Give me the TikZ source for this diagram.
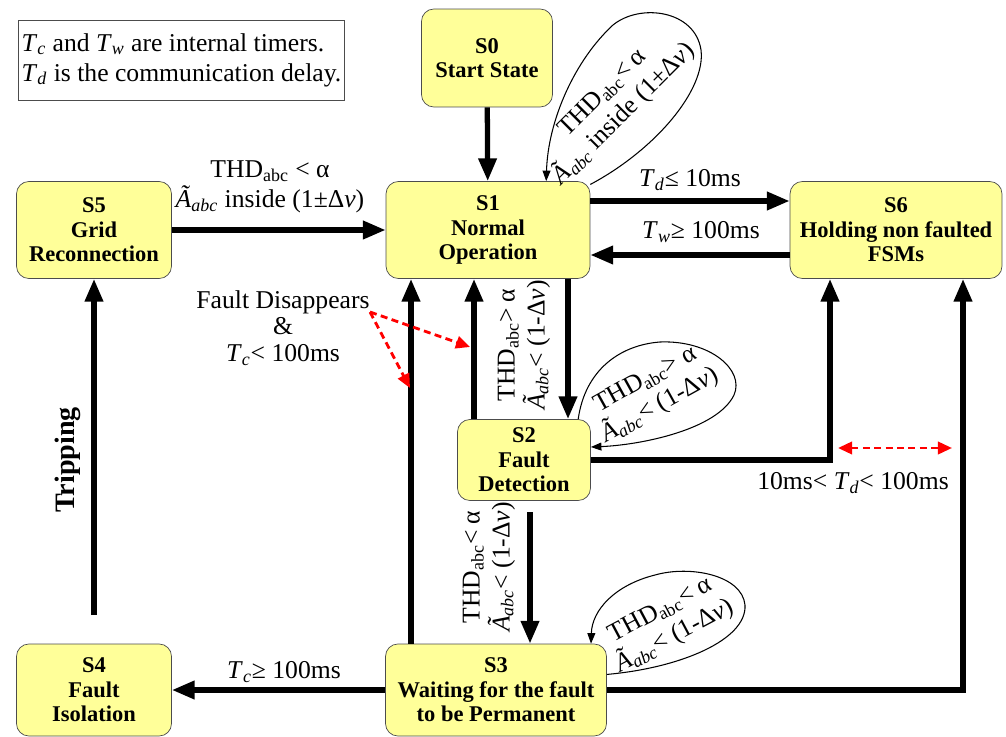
\documentclass[tikz,border=0pt]{standalone}
\usepackage{fontspec}
\setmainfont{Liberation Serif}
\usetikzlibrary{arrows.meta}
\definecolor{stfill}{RGB}{255,255,153}
\newcommand{\thd}{THD\textsubscript{abc}}
\newcommand{\aabc}{\textit{Ã}\textsubscript{\textit{abc}}}
\newcommand{\tm}[1]{\textit{T}\textsubscript{\textit{#1}}}

\begin{document}
\begin{tikzpicture}[x=0.02cm, y=-0.02cm, font=\fontsize{14.6}{17}\selectfont,
  state/.style={draw=black!70, fill=stfill, rounded corners=7pt, align=center,
    inner sep=2pt, font=\fontsize{12.8}{14}\selectfont\bfseries},
  bigarr/.style={line width=3pt, -{Triangle[length=13pt,width=10pt]}},
  looparr/.style={line width=0.6pt, -{Triangle[length=6pt,width=4.5pt]}},
  reddash/.style={red, line width=1.6pt, dash pattern=on 4pt off 2.5pt},
  redarr/.style={reddash, -{Triangle[length=8pt,width=7pt]}}]
  \useasboundingbox (0,0) rectangle (1006,736);
  % States
  \node[state, minimum width=2.62cm, minimum height=1.96cm] (s0) at (487,58) {S0\\Start State};
  \node[state, minimum width=4.08cm, minimum height=1.94cm] (s1) at (488,230) {S1\\Normal\\Operation};
  \node[state, minimum width=3.10cm, minimum height=1.94cm] (s5) at (94,230) {S5\\Grid\\Reconnection};
  \node[state, minimum width=4.24cm, minimum height=1.94cm] (s6) at (896,230) {S6\\Holding non faulted\\FSMs};
  \node[state, minimum width=2.66cm, minimum height=1.62cm] (s2) at (524,460) {S2\\Fault\\Detection};
  \node[state, minimum width=4.42cm, minimum height=1.84cm] (s3) at (496,690) {S3\\Waiting for the fault\\to be Permanent};
  \node[state, minimum width=3.10cm, minimum height=1.84cm] (s4) at (94,690) {S4\\Fault\\Isolation};
  \node[draw=black!70, align=left, minimum width=6.46cm, minimum height=1.6cm, inner sep=2pt] (note) at (181.5,60)
    {\tm{c} and \tm{w} are internal timers.\\\tm{d} is the communication delay.};
  % Guide lines
  \coordinate (xa) at (474,0);
  \coordinate (xb) at (568,0);
  \coordinate (xc) at (411,0);
  \coordinate (xe) at (830,0);
  \coordinate (xf) at (963,0);
  \coordinate (ya) at (0,201);
  \coordinate (yb) at (0,255);
  \coordinate (d0) at (530,512);
  \coordinate (t0) at (94,615);
  % Transitions
  \draw[bigarr] (s0) -- (s1);
  \draw[bigarr] (s5) -- (s1);
  \draw[bigarr] (s1.east |- ya) -- (s6.west |- ya);
  \draw[bigarr] (s6.west |- yb) -- (s1.east |- yb);
  \draw[bigarr] (s1.south -| xb) -- (s2.north -| xb);
  \draw[bigarr] (s2.north -| xa) -- (s1.south -| xa);
  \draw[bigarr] (s3.north -| xc) -- (s1.south -| xc);
  \draw[bigarr] (d0) -- (s3.north -| d0);
  \draw[bigarr] (s2.east) -| (s6.south -| xe);
  \draw[bigarr] (s3.east) -| (s6.south -| xf);
  \draw[bigarr] (s3) -- (s4);
  \draw[bigarr] (t0) -- (s5.south);
  % Self loops
  \draw[looparr] (s1.24) .. controls (655,150) and (706,90) .. (701,50)
    .. controls (695,10) and (640,3) .. (613,25) .. controls (575,60) and (548,120) .. (s1.40);
  \draw[looparr] (s2.37) .. controls (585,370) and (620,345) .. (660,342)
    .. controls (710,340) and (745,370) .. (734,395) .. controls (717,430) and (640,445) .. (s2.11);
  \draw[looparr] (s3.8) .. controls (680,668) and (747,640) .. (745,605)
    .. controls (742,575) and (690,565) .. (655,575) .. controls (615,585) and (592,610) .. (s3.26);
  % Labels
  \node[align=center] (l51) at (270,187) {\thd{} < α\\\aabc{} inside (1±Δ\textit{ν})};
  \node (l16) at (690,180) {\tm{d}≤ 10ms};
  \node (l61) at (701,232) {\tm{w}≥ 100ms};
  \node[rotate=90, align=center] (l12) at (524,345) {\thd> α\\\aabc< (1-Δ\textit{ν})};
  \node[rotate=90, align=center] (l23) at (489,567) {\thd< α\\\aabc< (1-Δ\textit{ν})};
  \node[rotate=45, align=center] (lp1) at (614,104) {\thd< α\\\aabc{} inside (1±Δ\textit{ν})};
  \node[rotate=29, align=center] (lp2) at (653,393) {\thd> α\\\aabc< (1-Δ\textit{ν})};
  \node[rotate=28, align=center] (lp3) at (668,624) {\thd< α\\\aabc< (1-Δ\textit{ν})};
  \node (l34) at (284,672) {\tm{c}≥ 100ms};
  \node[rotate=90, font=\fontsize{16}{18}\selectfont\bfseries] (trip) at (68,460) {Tripping};
  \node[align=center] (fault) at (283,328) {Fault Disappears\\[-2pt]\&\\[-2pt]\tm{c}<  100ms};
  \node (ltd) at (853,483) {10ms< \tm{d}< 100ms};
  % Fault disappears
  \coordinate (fd) at (370,312);
  \coordinate (r1) at (410,388);
  \coordinate (r2) at (470,347);
  \draw[redarr] (fd) -- (r1);
  \draw[redarr] (fd) -- (r2);
  \coordinate (tdl) at (838,448);
  \coordinate (tdr) at (952,448);
  \draw[reddash, {Triangle[length=8pt,width=7pt]}-{Triangle[length=8pt,width=7pt]}] (tdl) -- (tdr);
\end{tikzpicture}
\end{document}
